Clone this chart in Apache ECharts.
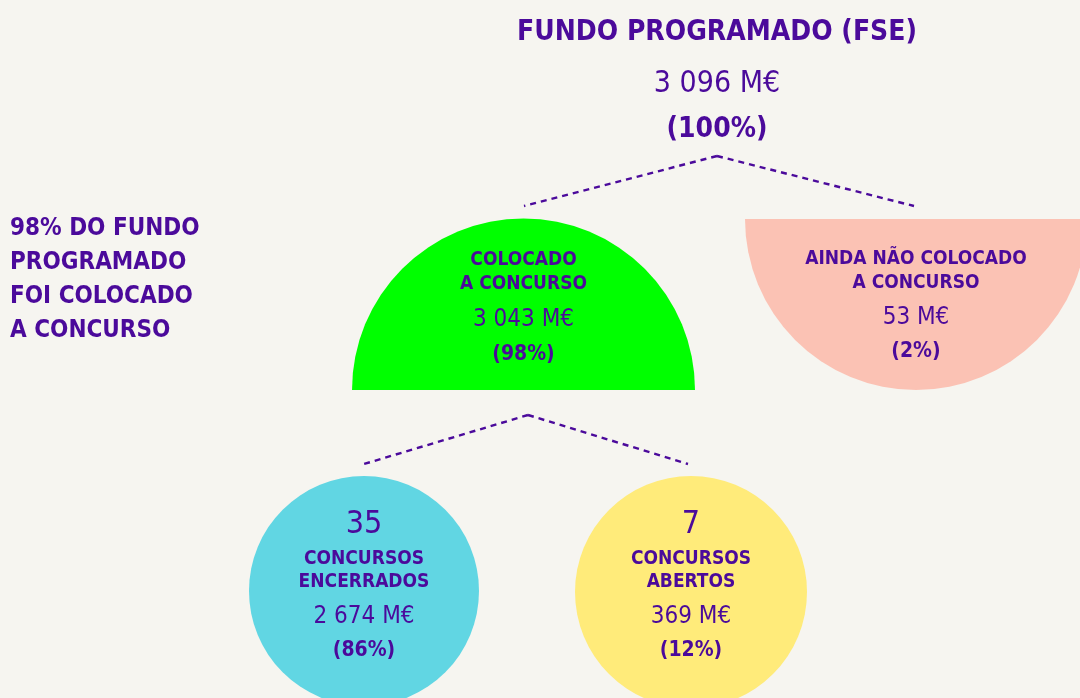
<!DOCTYPE html>
<html>
<head>
<meta charset="utf-8">
<script src="https://cdn.jsdelivr.net/npm/echarts@6/dist/echarts.min.js"></script>
<style>
  html, body { margin: 0; padding: 0; background: #f6f5f0; }
  #chart { width: 1080px; height: 698px; }
</style>
</head>
<body>
<div id="chart"></div>
<script>
// dados do fundo (M€), partilhas e nº de concursos
const nodeNames = ['FUNDO PROGRAMADO (FSE)', 'COLOCADO\nA CONCURSO', 'AINDA NÃO COLOCADO\nA CONCURSO', 'CONCURSOS\nENCERRADOS', 'CONCURSOS\nABERTOS'];
const nodeValues = [3096, 3043, 53, 2674, 369];
const nodeShares = [100, 98, 2, 86, 12];
const nodeCounts = [null, null, null, 35, 7];
const nodeParents = [-1, 0, 0, 1, 1];
const noteLines = ['98% DO FUNDO', 'PROGRAMADO', 'FOI COLOCADO', 'A CONCURSO'];

// layout (em pixels do eixo escondido)
const nodeShape = ['none', 'semiUp', 'semiDown', 'circle', 'circle'];
const nodeCenter = [[717, 0], [523.5, 390], [916, 219], [364, 591], [691, 592]];
const nodeRadius = [0, 171.5, 171, 115, 116];
const nodeColor = ['none', '#00ff00', '#fbc2b4', '#61d6e3', '#ffeb7a'];
const nodeTextY = [
  [33, 84, 130],
  [260, 284, 320, 355],
  [259.5, 283.5, 318, 352],
  [525, 559.5, 582, 617, 651],
  [525, 559.5, 582, 617, 651]
];
const nodeIn = [null, [524, 206], [914, 206], [364, 464], [688, 464]];
const nodeOut = [[717, 156], [528, 415], null, null, null];

const purple = '#4b0a9b';
const FONT = "'DejaVu Sans Condensed', 'Liberation Sans Narrow', 'Roboto', sans-serif";

function fmtValue(v) {
  return String(v).replace(/\B(?=(\d{3})+(?!\d))/g, ' ') + ' M€';
}

function renderNode(params, api) {
  const i = params.dataIndex;
  const c = api.coord(nodeCenter[i]);
  const r = api.size([nodeRadius[i], 0])[0];
  const children = [];
  if (nodeShape[i] === 'semiUp') {
    children.push({ type: 'sector', shape: { cx: c[0], cy: c[1], r0: 0, r: r, startAngle: Math.PI, endAngle: Math.PI * 2, clockwise: true }, style: { fill: nodeColor[i] } });
  } else if (nodeShape[i] === 'semiDown') {
    children.push({ type: 'sector', shape: { cx: c[0], cy: c[1], r0: 0, r: r, startAngle: 0, endAngle: Math.PI, clockwise: true }, style: { fill: nodeColor[i] } });
  } else if (nodeShape[i] === 'circle') {
    children.push({ type: 'circle', shape: { cx: c[0], cy: c[1], r: r }, style: { fill: nodeColor[i] } });
  }
  // linhas de texto
  const top = i === 0;
  const lines = [];
  if (nodeCounts[i] != null) lines.push([String(nodeCounts[i]), 'normal 32px ' + FONT]);
  nodeNames[i].split('\n').forEach(function (s) {
    lines.push([s, 'bold ' + (top ? 28 : 19) + 'px ' + FONT]);
  });
  lines.push([fmtValue(nodeValues[i]), 'normal ' + (top ? 30 : 24) + 'px ' + FONT]);
  lines.push(['(' + nodeShares[i] + '%)', 'bold ' + (top ? 28 : 21) + 'px ' + FONT]);
  lines.forEach(function (ln, k) {
    const p = api.coord([nodeCenter[i][0], nodeTextY[i][k]]);
    children.push({ type: 'text', style: { text: ln[0], x: p[0], y: p[1], align: 'center', verticalAlign: 'middle', font: ln[1], fill: purple } });
  });
  return { type: 'group', children: children };
}

function renderLink(params, api) {
  const child = params.dataIndex + 1;
  const a = api.coord(nodeOut[nodeParents[child]]);
  const b = api.coord(nodeIn[child]);
  return {
    type: 'line',
    shape: { x1: a[0], y1: a[1], x2: b[0], y2: b[1] },
    style: { stroke: purple, lineWidth: 2.4, lineDash: [6, 5] }
  };
}

const chart = echarts.init(document.getElementById('chart'));
chart.setOption({
  backgroundColor: '#f6f5f0',
  animation: false,
  title: {
    text: noteLines.join('\n'),
    left: 5,
    top: 207,
    textStyle: { color: purple, fontSize: 24, fontWeight: 'bold', lineHeight: 34, fontFamily: FONT }
  },
  grid: { left: 0, right: 0, top: 0, bottom: 0 },
  xAxis: { type: 'value', min: 0, max: 1080, show: false },
  yAxis: { type: 'value', min: 0, max: 698, inverse: true, show: false },
  series: [
    {
      type: 'custom',
      renderItem: renderLink,
      data: nodeParents.slice(1).map(function (p, k) { return [k, p]; }),
      silent: true,
      z: 1
    },
    {
      type: 'custom',
      renderItem: renderNode,
      data: nodeValues.map(function (v, i) { return [i, v]; }),
      silent: true,
      clip: true,
      z: 2
    }
  ]
});
</script>
</body>
</html>
